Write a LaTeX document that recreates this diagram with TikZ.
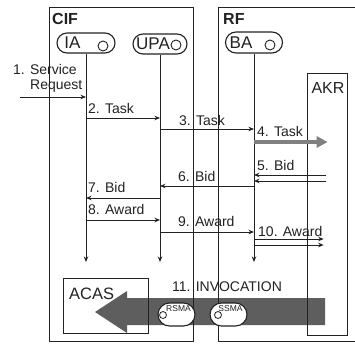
\documentclass[tikz,border=0pt]{standalone}
\usepackage{fontspec}
\setmainfont{Liberation Sans}
\usetikzlibrary{arrows.meta,shapes.misc}
\definecolor{ink}{HTML}{222222}
\definecolor{band}{HTML}{5E5E5E}
\definecolor{taskgray}{HTML}{808080}
\tikzset{
  frame/.style={draw=ink, line width=1.3pt},
  life/.style={draw=ink, line width=1pt},
  msg/.style={draw=ink, line width=1pt, -{Stealth[length=5.5pt,width=4.5pt]}},
  lbl/.style={anchor=west, inner sep=0pt, text=ink, font=\fontsize{14}{16}\selectfont},
  agent/.style={rounded rectangle, draw=ink, line width=1.1pt, minimum height=20pt, inner sep=0pt, fill=white},
  agentname/.style={inner sep=0pt, text=ink, font=\fontsize{17}{18}\selectfont},
  port/.style={circle, draw=ink, line width=0.9pt, minimum size=10pt, inner sep=0pt},
  smallport/.style={circle, draw=ink, line width=0.8pt, minimum size=7pt, inner sep=0pt},
  sma/.style={rounded rectangle, draw=ink, line width=1.1pt, fill=white, minimum width=37pt, minimum height=23pt, inner sep=0pt},
  smaname/.style={inner sep=0pt, text=ink, font=\fontsize{8.5}{9}\selectfont},
  title/.style={anchor=west, inner sep=0pt, text=ink, font=\bfseries\fontsize{16}{17}\selectfont}
}
\begin{document}
\begin{tikzpicture}[x=1pt,y=-1pt]
\useasboundingbox (0,0) rectangle (355,343);
\fill[white] (0,0) rectangle (355,343);

% big invocation arrow (drawn first)
\fill[band] (325,298) -- (127,298) -- (127,291) -- (95,312) -- (127,333) -- (127,325) -- (325,325) -- cycle;

% frames
\node[frame, anchor=north west, minimum width=144pt, minimum height=334pt, inner sep=0pt] (CIF) at (49,7) {};
\node[frame, anchor=north west, minimum width=150pt, minimum height=334pt, inner sep=0pt] (RF) at (218,7) {};
\node[frame, anchor=north west, minimum width=40pt, minimum height=262pt, inner sep=0pt] (AKR) at (307,73) {};
\node[frame, anchor=north west, minimum width=85pt, minimum height=55pt, inner sep=0pt] (ACAS) at (63,278) {};

\node[title] (CIFt) at (52,19) {CIF};
\node[title] (RFt) at (223,19) {RF};
\node[inner sep=0pt, text=ink, font=\fontsize{16}{17}\selectfont] (AKRt) at (328,88) {AKR};
\node[anchor=west, inner sep=0pt, text=ink, font=\fontsize{16.5}{17}\selectfont] (ACASt) at (69,294) {ACAS};

% agents
\node[agent, minimum width=58pt] (IA) at (86,43) {};
\node[agentname] (IAt) at (72.5,43) {IA};
\node[port] (IAp) at (103,46) {};

\node[agent, minimum width=54pt] (UPA) at (160,44) {};
\node[agentname] (UPAt) at (153,44) {UPA};
\node[port] (UPAp) at (176,45) {};

\node[agent, minimum width=57pt, minimum height=21pt] (BA) at (254,42.5) {};
\node[agentname] (BAt) at (241,43) {BA};
\node[port] (BAp) at (270,45) {};

% lifelines
\coordinate (yend) at (0,262);
\draw[msg] (IA.south) -- (IA |- yend);
\draw[msg] (UPA.south) -- (UPA |- yend);
\draw[msg] (BA.south) -- (BA |- yend);

% message levels
\coordinate (y1) at (0,97);
\coordinate (y2) at (0,118);
\coordinate (y3) at (0,129);
\coordinate (y4) at (0,142);
\coordinate (y5a) at (0,175);
\coordinate (y5b) at (0,181);
\coordinate (y6) at (0,186);
\coordinate (y7) at (0,198);
\coordinate (y8) at (0,220);
\coordinate (y9) at (0,232);
\coordinate (y10a) at (0,239);
\coordinate (y10b) at (0,245);
\coordinate (src) at (20,97);

% 1. Service Request
\node[lbl] (l1a) at (13,69) {1. Service};
\node[lbl] (l1b) at (30,86) {Request};
\draw[msg] (src) -- (IA |- y1);

% 2. Task
\node[lbl] (l2) at (88,108) {2. Task};
\draw[msg] (IA |- y2) -- (UPA |- y2);

% 3. Task
\node[lbl] (l3) at (179,120) {3. Task};
\draw[msg] (UPA |- y3) -- (BA |- y3);

% 4. Task (thick grey)
\node[lbl] (l4) at (257,131) {4. Task};
\draw[taskgray, line width=4pt, -{Triangle[length=11pt,width=11pt]}] (BA |- y4) -- (AKR |- y4);

% 5. Bid
\node[lbl] (l5) at (257,165) {5. Bid};
\draw[msg] ([xshift=-2pt]AKR |- y5a) -- (BA |- y5a);
\draw[msg] ([xshift=-2pt]AKR |- y5b) -- (BA |- y5b);

% 6. Bid
\node[lbl] (l6) at (178,176) {6. Bid};
\draw[msg] (BA |- y6) -- (UPA |- y6);

% 7. Bid
\node[lbl] (l7) at (88,187) {7. Bid};
\draw[msg] (UPA |- y7) -- (IA |- y7);

% 8. Award
\node[lbl] (l8) at (88,209) {8. Award};
\draw[msg] (IA |- y8) -- (UPA |- y8);

% 9. Award
\node[lbl] (l9) at (178,221) {9. Award};
\draw[msg] (UPA |- y9) -- (BA |- y9);

% 10. Award
\node[lbl] (l10) at (258,231) {10. Award};
\draw[msg] (BA |- y10a) -- ([xshift=-4pt]AKR |- y10a);
\draw[msg] (BA |- y10b) -- ([xshift=-4pt]AKR |- y10b);

% 11. INVOCATION
\node[inner sep=0pt, text=ink, font=\fontsize{14}{16}\selectfont] (l11) at (227,287) {11. INVOCATION};

% SMAs
\node[sma] (RSMA) at (176.5,314.5) {};
\node[smaname] (RSMAt) at (178.5,308.5) {RSMA};
\node[smallport] (RSMAp) at (163,315) {};
\node[sma] (SSMA) at (228.5,314.5) {};
\node[smaname] (SSMAt) at (230.5,308.5) {SSMA};
\node[smallport] (SSMAp) at (218,315) {};
\end{tikzpicture}
\end{document}
